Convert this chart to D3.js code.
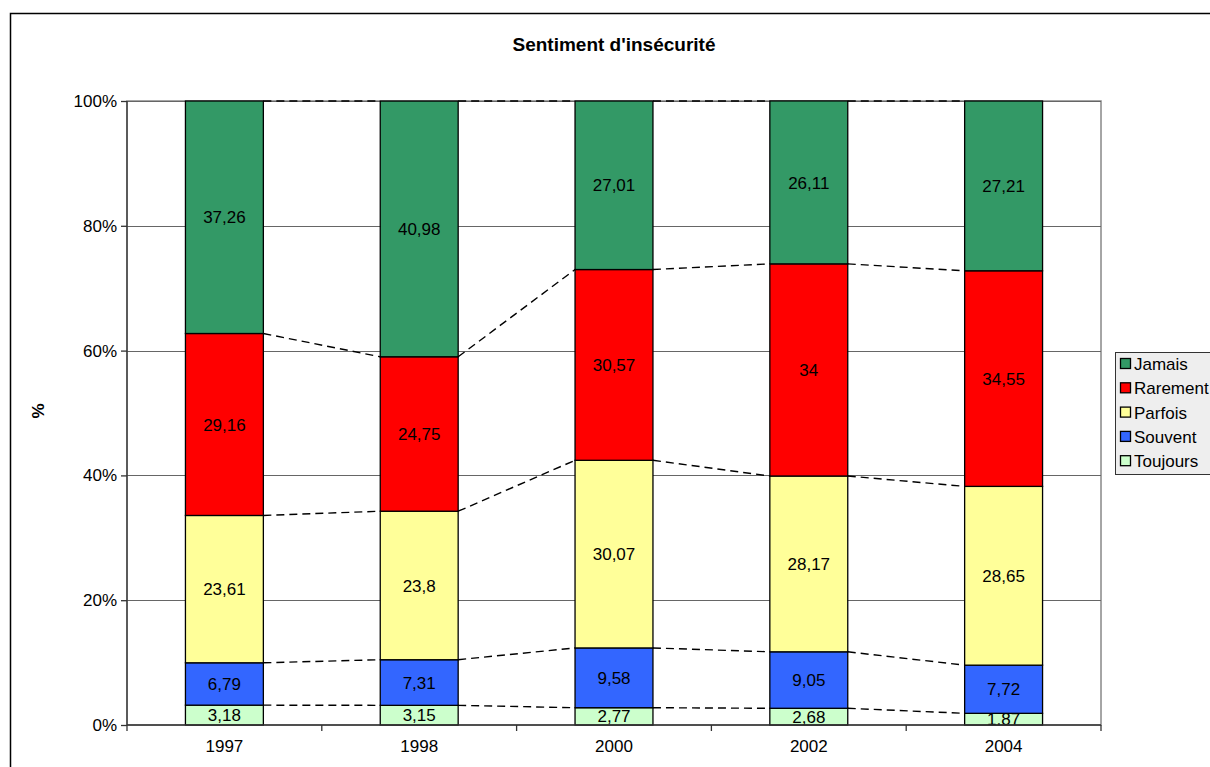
<!DOCTYPE html>
<html><head><meta charset="utf-8">
<script src="https://cdn.jsdelivr.net/npm/d3@7"></script>
<style>body{margin:0;background:#fff;}svg{display:block;font-family:Arial,"Liberation Sans",sans-serif;}</style>
</head><body>
<svg id="c" width="1210" height="767"></svg>
<script>
const years = ["1997","1998","2000","2002","2004"];
const seriesNames = ["Toujours","Souvent","Parfois","Rarement","Jamais"];
const toujours = [3.18,3.15,2.77,2.68,1.87];
const souvent  = [6.79,7.31,9.58,9.05,7.72];
const parfois  = [23.61,23.8,30.07,28.17,28.65];
const rarement = [29.16,24.75,30.57,34,34.55];
const jamais   = [37.26,40.98,27.01,26.11,27.21];
const colors = {Toujours:"#CCFFCC",Souvent:"#3366FF",Parfois:"#FFFF99",Rarement:"#FF0000",Jamais:"#339966"};
const yTicks = [0,20,40,60,80,100];
const legendOrder = ["Jamais","Rarement","Parfois","Souvent","Toujours"];

const valuesBy = {Toujours:toujours,Souvent:souvent,Parfois:parfois,Rarement:rarement,Jamais:jamais};
const table = years.map((y,i)=>{const o={year:y};seriesNames.forEach(s=>o[s]=valuesBy[s][i]);return o;});
const stack = d3.stack().keys(seriesNames)(table);

const svg = d3.select("#c");
const L=127,R=1101,T=101,B=725;
const FS=17;
const x = d3.scaleBand().domain(years).range([L,R]).paddingInner(0.6).paddingOuter(0.3);
const y = d3.scaleLinear().domain([0,100]).range([B,T]);

// outer frame
svg.append("rect").attr("x",10.5).attr("y",13.5).attr("width",1300).attr("height",900)
  .attr("fill","none").attr("stroke","#000").attr("stroke-width",1.5);

// plot border (gray)
svg.append("rect").attr("x",L).attr("y",T).attr("width",R-L).attr("height",B-T)
  .attr("fill","#fff").attr("stroke","#888").attr("stroke-width",1.5);

// gridlines
svg.append("g").selectAll("line").data(yTicks.filter(t=>t>0)).join("line")
  .attr("x1",L).attr("x2",R).attr("y1",d=>Math.round(y(d))+0.5).attr("y2",d=>Math.round(y(d))+0.5)
  .attr("stroke","#666").attr("stroke-width",1);

// bars
const g = svg.append("g");
stack.forEach(layer=>{
  g.selectAll(null).data(layer).join("rect")
    .attr("x",(d,i)=>x(years[i])).attr("width",x.bandwidth())
    .attr("y",d=>y(d[1])).attr("height",d=>y(d[0])-y(d[1]))
    .attr("fill",colors[layer.key]).attr("stroke","#000").attr("stroke-width",1.3);
});

// dashed series lines
stack.forEach(layer=>{
  for(let i=0;i<years.length-1;i++){
    svg.append("line")
      .attr("x1",x(years[i])+x.bandwidth()).attr("x2",x(years[i+1]))
      .attr("y1",y(layer[i][1])).attr("y2",y(layer[i+1][1]))
      .attr("stroke","#000").attr("stroke-width",1.4).attr("stroke-dasharray","8,5");
  }
});

// labels (clipped to plot)
svg.append("clipPath").attr("id","pc").append("rect").attr("x",L).attr("y",T).attr("width",R-L).attr("height",B-T);
const lg = svg.append("g").attr("clip-path","url(#pc)");
stack.forEach(layer=>{
  lg.selectAll(null).data(layer).join("text")
    .attr("x",(d,i)=>x(years[i])+x.bandwidth()/2)
    .attr("y",d=>(y(d[0])+y(d[1]))/2)
    .attr("dy","0.36em").attr("text-anchor","middle").attr("font-size",FS).attr("fill","#000")
    .text(d=>String(+(d[1]-d[0]).toFixed(2)).replace(".",","));
});

// axes
const ya = d3.axisLeft(y).tickValues(yTicks).tickFormat(d=>d+"%").tickSize(6).tickPadding(4);
const yg = svg.append("g").attr("transform",`translate(${L},0)`).call(ya);
yg.select(".domain").attr("stroke","#333").attr("stroke-width",1.3).attr("d",`M0,${T}V${B}`);
yg.selectAll("line").attr("stroke","#333").attr("stroke-width",1.3);
yg.selectAll("text").attr("font-size",FS).attr("fill","#000").attr("font-family","Arial, 'Liberation Sans', sans-serif");

const xa = d3.axisBottom(x).tickSize(0).tickPadding(15);
const xg = svg.append("g").attr("transform",`translate(0,${B})`).call(xa);
xg.select(".domain").attr("stroke","#333").attr("stroke-width",1.3).attr("d",`M${L},0H${R}`);
xg.selectAll("text").attr("font-size",FS).attr("fill","#000").attr("font-family","Arial, 'Liberation Sans', sans-serif");
// category boundary ticks
const bounds = years.map((d,i)=>L+i*x.step()).concat([R]);
xg.selectAll(".bt").data(bounds).join("line").attr("class","bt")
  .attr("x1",d=>d).attr("x2",d=>d).attr("y1",0).attr("y2",6).attr("stroke","#333").attr("stroke-width",1.3);

// title
svg.append("text").attr("x",614).attr("y",51).attr("text-anchor","middle")
  .attr("font-size",19).attr("font-weight","bold").text("Sentiment d'insécurité");
// y title
svg.append("text").attr("transform","translate(44,411) rotate(-90)").attr("text-anchor","middle")
  .attr("font-size",FS).attr("font-weight","bold").text("%");

// legend
const leg = svg.append("g");
leg.append("rect").attr("x",1115.5).attr("y",352.5).attr("width",110).attr("height",122)
  .attr("fill","#EEEEEE").attr("stroke","#333").attr("stroke-width",1);
legendOrder.forEach((s,i)=>{
  const cy = 364 + i*24.3;
  leg.append("rect").attr("x",1120.5).attr("y",cy-5.5).attr("width",10).attr("height",10)
    .attr("fill",colors[s]).attr("stroke","#000").attr("stroke-width",1.3);
  leg.append("text").attr("x",1134).attr("y",cy).attr("dy","0.36em").attr("font-size",FS).text(s);
});
</script>
</body></html>
